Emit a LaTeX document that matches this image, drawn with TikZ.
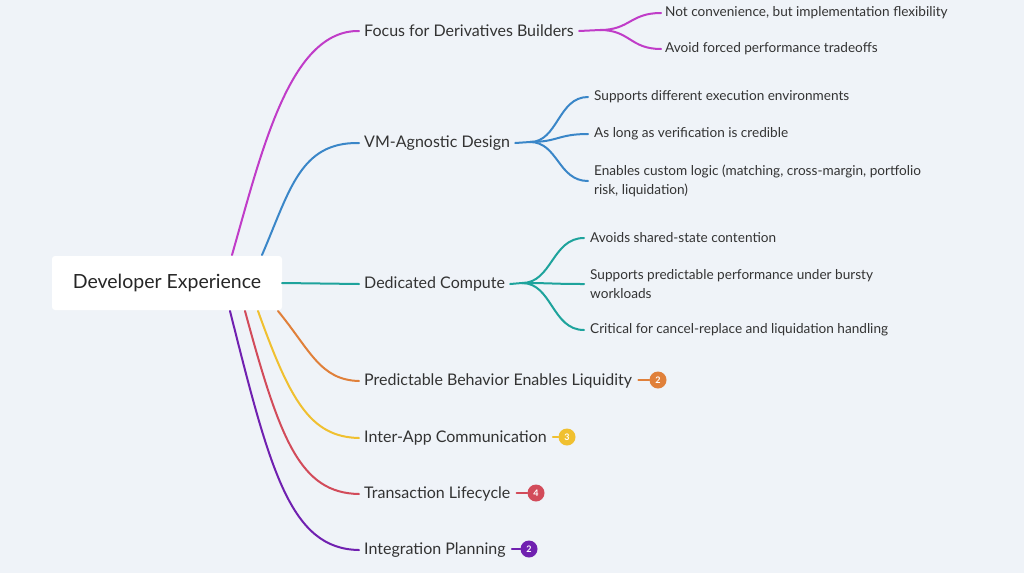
\documentclass[tikz,border=0pt]{standalone}
\usepackage{fontspec}
\setmainfont{Lato}
\begin{document}
\begin{tikzpicture}[x=1pt,y=-1pt,
 br/.style={anchor=west,inner sep=0pt,font=\fontsize{16}{18}\selectfont,text=black!80},
 ch/.style={anchor=west,inner sep=0pt,font=\fontsize{13.6}{19}\selectfont,text=black!80,align=left},
 ln/.style={line width=2pt,line cap=round},
 bd/.style={circle,inner sep=0pt,minimum size=17pt,font=\fontsize{9}{10}\selectfont\bfseries,text=white}]
\definecolor{bg}{HTML}{EFF3F8}
\definecolor{cP}{HTML}{C03CC8}\definecolor{cB}{HTML}{3A86C8}\definecolor{cT}{HTML}{1EA39C}
\definecolor{cO}{HTML}{E0803A}\definecolor{cY}{HTML}{F0C030}\definecolor{cR}{HTML}{D24B5A}\definecolor{cD}{HTML}{7020B0}
\fill[bg] (0,0) rectangle (1024,573);
\useasboundingbox (0,0) rectangle (1024,573);
\node[fill=white,rounded corners=3pt,minimum width=230pt,minimum height=54pt,font=\fontsize{19.5}{22}\selectfont,text=black!85] (root) at (167,283) {Developer Experience};
% branch labels
\node[br] (b1) at (364,31) {Focus for Derivatives Builders};
\node[br] (b2) at (364,143) {VM-Agnostic Design};
\node[br] (b3) at (364,284) {Dedicated Compute};
\node[br] (b4) at (364,381) {Predictable Behavior Enables Liquidity};
\node[br] (b5) at (364,438) {Inter-App Communication};
\node[br] (b6) at (364,494) {Transaction Lifecycle};
\node[br] (b7) at (364,550) {Integration Planning};
% root branches
\coordinate (s1) at (232,255);\coordinate (s2) at (262,255);\coordinate (s3) at (282,283);
\coordinate (s4) at (278,311);\coordinate (s5) at (258,311);\coordinate (s6) at (245,311);\coordinate (s7) at (230,311);
\draw[ln,cP] (s1) .. controls (262,150) and (290,30) .. ([xshift=-5pt]b1.west);
\draw[ln,cB] (s2) .. controls (290,190) and (300,142) .. ([xshift=-5pt]b2.west);
\draw[ln,cT] (s3) -- ([xshift=-5pt]b3.west);
\draw[ln,cO] (s4) .. controls (310,350) and (320,380) .. ([xshift=-5pt]b4.west);
\draw[ln,cY] (s5) .. controls (290,400) and (310,437) .. ([xshift=-5pt]b5.west);
\draw[ln,cR] (s6) .. controls (280,440) and (300,493) .. ([xshift=-5pt]b6.west);
\draw[ln,cD] (s7) .. controls (270,470) and (290,549) .. ([xshift=-5pt]b7.west);
% children 1
\node[ch] (c11) at (665,13) {Not convenience, but implementation flexibility};
\node[ch] (c12) at (665,49) {Avoid forced performance tradeoffs};
\coordinate (f1) at (600,30);
\draw[ln,cP] ([xshift=5pt]b1.east) -- (f1);
\foreach \c in {c11,c12} \draw[ln,cP] (f1) .. controls (630,30) and (630,0|-\c.west) .. ([xshift=-4pt]\c.west);
% children 2
\node[ch] (c21) at (594,97) {Supports different execution environments};
\node[ch] (c22) at (594,134) {As long as verification is credible};
\node[ch] (c23) at (594,181) {Enables custom logic (matching, cross-margin, portfolio\\risk, liquidation)};
\coordinate (f2) at (530,142);
\draw[ln,cB] ([xshift=5pt]b2.east) -- (f2);
\foreach \c in {c21,c22,c23} \draw[ln,cB] (f2) .. controls (558,142) and (558,0|-\c.west) .. ([xshift=-6pt]\c.west);
% children 3
\node[ch] (c31) at (590,238) {Avoids shared-state contention};
\node[ch] (c32) at (590,284) {Supports predictable performance under bursty\\workloads};
\node[ch] (c33) at (590,330) {Critical for cancel-replace and liquidation handling};
\coordinate (f3) at (522,283);
\draw[ln,cT] ([xshift=5pt]b3.east) -- (f3);
\foreach \c in {c31,c32,c33} \draw[ln,cT] (f3) .. controls (552,283) and (552,0|-\c.west) .. ([xshift=-6pt]\c.west);
% badges
\node[bd,fill=cO] (d4) at (658,380) {2};
\node[bd,fill=cY] (d5) at (567,437) {3};
\node[bd,fill=cR] (d6) at (536,493) {4};
\node[bd,fill=cD] (d7) at (529,549) {2};
\draw[ln,cO] ([xshift=6pt]b4.east|-d4) -- (d4);
\draw[ln,cY] ([xshift=6pt]b5.east|-d5) -- (d5);
\draw[ln,cR] ([xshift=6pt]b6.east|-d6) -- (d6);
\draw[ln,cD] ([xshift=6pt]b7.east|-d7) -- (d7);
\end{tikzpicture}
\end{document}
